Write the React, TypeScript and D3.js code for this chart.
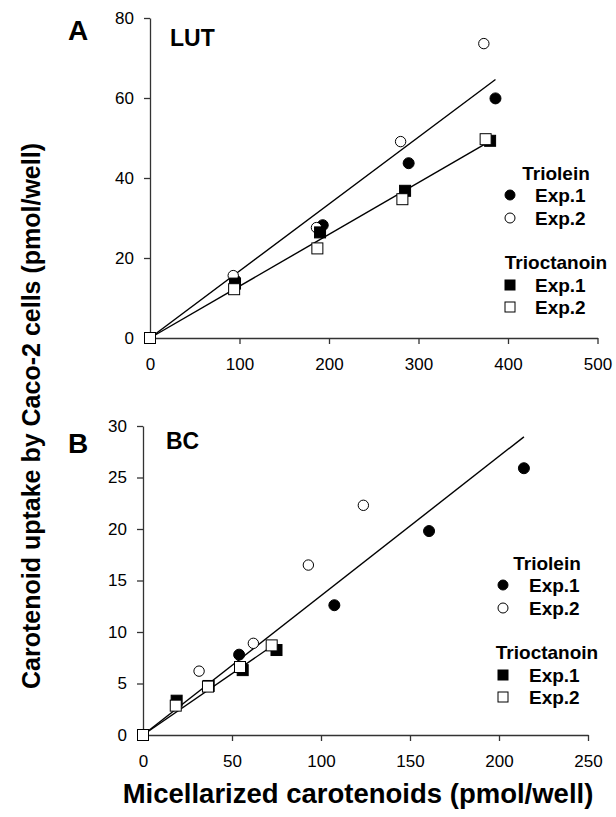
import React, { useEffect, useRef } from 'react';
import * as d3 from 'd3';

// Panel A (LUT): micellarized vs uptake, pmol/well
const lutTrioleinExp1X = [0, 95, 193, 289, 386];
const lutTrioleinExp1Y = [0, 14.5, 28.2, 43.7, 59.9];
const lutTrioleinExp2X = [0, 93, 186, 280, 373];
const lutTrioleinExp2Y = [0, 15.6, 27.6, 49.1, 73.6];
const lutTrioctExp1X = [0, 95, 190, 285, 380];
const lutTrioctExp1Y = [0, 13.6, 26.4, 36.8, 49.3];
const lutTrioctExp2X = [0, 94, 187, 282, 375];
const lutTrioctExp2Y = [0, 12.2, 22.4, 34.7, 49.7];

// Panel B (BC)
const bcTrioleinExp1X = [0, 54, 107.5, 160.7, 214];
const bcTrioleinExp1Y = [0, 7.8, 12.6, 19.8, 25.9];
const bcTrioleinExp2X = [0, 31.5, 62, 92.9, 123.8];
const bcTrioleinExp2Y = [0, 6.2, 8.9, 16.5, 22.3];
const bcTrioctExp1X = [0, 18.9, 36.9, 56, 75];
const bcTrioctExp1Y = [0, 3.33, 4.76, 6.3, 8.25];
const bcTrioctExp2X = [0, 18.4, 36.5, 54.5, 72.3];
const bcTrioctExp2Y = [0, 2.85, 4.7, 6.6, 8.7];

const lutXTicks = [0, 100, 200, 300, 400, 500];
const lutYTicks = [0, 20, 40, 60, 80];
const bcXTicks = [0, 50, 100, 150, 200, 250];
const bcYTicks = [0, 5, 10, 15, 20, 25, 30];

const FONT = '"Liberation Sans", Arial, sans-serif';

const zip = (xs, ys) => xs.map((x, i) => ({ x, y: ys[i] }));

// least squares through the origin, drawn up to the largest x
const fitLine = (pts) => {
    const sxy = d3.sum(pts, d => d.x * d.y);
    const sxx = d3.sum(pts, d => d.x * d.x);
    const slope = sxy / sxx;
    const xMax = d3.max(pts, d => d.x);
    return [{ x: 0, y: 0 }, { x: xMax, y: slope * xMax }];
};

const drawPanel = (svg, cfg) => {
    const x = d3.scaleLinear().domain(cfg.xDomain).range(cfg.xRange);
    const y = d3.scaleLinear().domain(cfg.yDomain).range(cfg.yRange);
    const g = svg.append('g');

    const xAxis = g.append('g')
        .attr('transform', `translate(0,${cfg.yRange[0]})`)
        .call(d3.axisBottom(x).tickValues(cfg.xTicks).tickSize(6).tickSizeOuter(0).tickPadding(14));
    const yAxis = g.append('g')
        .attr('transform', `translate(${cfg.xRange[0]},0)`)
        .call(d3.axisLeft(y).tickValues(cfg.yTicks).tickSize(6).tickSizeOuter(0).tickPadding(10));

    [xAxis, yAxis].forEach(ax => {
        ax.selectAll('path, line').attr('stroke', '#333').attr('stroke-width', 1.3);
        ax.selectAll('text')
            .attr('fill', '#000')
            .style('font-size', '17px')
            .style('font-family', FONT);
    });

    // fit lines
    const line = d3.line().x(d => x(d.x)).y(d => y(d.y));
    cfg.fits.forEach(pts => {
        g.append('path')
            .attr('d', line(fitLine(pts)))
            .attr('fill', 'none')
            .attr('stroke', '#000')
            .attr('stroke-width', 1.4);
    });

    // markers
    cfg.series.forEach(s => {
        const sel = g.append('g').selectAll('.m').data(s.pts).enter();
        if (s.shape === 'circle') {
            sel.append('circle')
                .attr('cx', d => x(d.x))
                .attr('cy', d => y(d.y))
                .attr('r', s.filled ? 5.5 : 5.2)
                .attr('fill', s.filled ? '#000' : '#fff')
                .attr('stroke', '#000')
                .attr('stroke-width', 1);
        } else {
            sel.append('rect')
                .attr('x', d => x(d.x) - 5.5)
                .attr('y', d => y(d.y) - 5.5)
                .attr('width', 11)
                .attr('height', 11)
                .attr('fill', s.filled ? '#000' : '#fff')
                .attr('stroke', '#000')
                .attr('stroke-width', 1);
        }
    });

    // panel letter and title
    g.append('text').attr('x', 68).attr('y', cfg.letterY).text(cfg.letter)
        .style('font-size', '28px').style('font-weight', 'bold').style('font-family', FONT);
    g.append('text').attr('x', cfg.titleX).attr('y', cfg.titleY).text(cfg.title)
        .style('font-size', '23px').style('font-weight', 'bold').style('font-family', FONT);

    // legend
    const lg = g.append('g').style('font-family', FONT).style('font-weight', 'bold').style('font-size', '19px');
    const L = cfg.legend;
    lg.append('text').attr('x', L.cx).attr('y', L.y + 7).attr('text-anchor', 'middle').text('Triolein');
    lg.append('text').attr('x', L.cx).attr('y', L.y + 96).attr('text-anchor', 'middle').text('Trioctanoin');
    const rows = [
        { dy: 22, shape: 'circle', filled: true, label: 'Exp.1' },
        { dy: 45, shape: 'circle', filled: false, label: 'Exp.2' },
        { dy: 112, shape: 'square', filled: true, label: 'Exp.1' },
        { dy: 134, shape: 'square', filled: false, label: 'Exp.2' },
    ];
    rows.forEach(r => {
        const cy = L.y + r.dy;
        if (r.shape === 'circle') {
            lg.append('circle').attr('cx', L.mx).attr('cy', cy).attr('r', 5)
                .attr('fill', r.filled ? '#000' : '#fff').attr('stroke', '#000');
        } else {
            lg.append('rect').attr('x', L.mx - 5).attr('y', cy - 5).attr('width', 10).attr('height', 10)
                .attr('fill', r.filled ? '#000' : '#fff').attr('stroke', '#000');
        }
        lg.append('text').attr('x', L.tx).attr('y', cy + 7).text(r.label);
    });
};

const App = () => {
    const svgRef = useRef(null);

    useEffect(() => {
        const svg = d3.select(svgRef.current);
        svg.selectAll('*').remove();

        const lA1 = zip(lutTrioleinExp1X, lutTrioleinExp1Y);
        const lA2 = zip(lutTrioleinExp2X, lutTrioleinExp2Y);
        const lB1 = zip(lutTrioctExp1X, lutTrioctExp1Y);
        const lB2 = zip(lutTrioctExp2X, lutTrioctExp2Y);

        drawPanel(svg, {
            xDomain: [0, 500], xRange: [150, 597.5],
            yDomain: [0, 80], yRange: [338, 18],
            xTicks: lutXTicks, yTicks: lutYTicks,
            letter: 'A', letterY: 40, title: 'LUT', titleX: 170, titleY: 46,
            fits: [lA1.concat(lA2), lB1.concat(lB2)],
            series: [
                { pts: lA1, shape: 'circle', filled: true },
                { pts: lA2, shape: 'circle', filled: false },
                { pts: lB1, shape: 'square', filled: true },
                { pts: lB2, shape: 'square', filled: false },
            ],
            legend: { y: 173, cx: 556, mx: 510, tx: 535 },
        });

        const bA1 = zip(bcTrioleinExp1X, bcTrioleinExp1Y);
        const bA2 = zip(bcTrioleinExp2X, bcTrioleinExp2Y);
        const bB1 = zip(bcTrioctExp1X, bcTrioctExp1Y);
        const bB2 = zip(bcTrioctExp2X, bcTrioctExp2Y);

        drawPanel(svg, {
            xDomain: [0, 250], xRange: [143, 588],
            yDomain: [0, 30], yRange: [735, 426],
            xTicks: bcXTicks, yTicks: bcYTicks,
            letter: 'B', letterY: 453, title: 'BC', titleX: 166, titleY: 449,
            fits: [bA1.concat(bA2), bB1.concat(bB2)],
            series: [
                { pts: bA1, shape: 'circle', filled: true },
                { pts: bA2, shape: 'circle', filled: false },
                { pts: bB1, shape: 'square', filled: true },
                { pts: bB2, shape: 'square', filled: false },
            ],
            legend: { y: 563, cx: 547, mx: 503, tx: 529 },
        });

        // shared axis titles
        svg.append('text')
            .attr('x', 358).attr('y', 803)
            .attr('text-anchor', 'middle')
            .text('Micellarized carotenoids (pmol/well)')
            .style('font-size', '27.5px').style('font-weight', 'bold').style('font-family', FONT);
        svg.append('text')
            .attr('transform', 'translate(40,416) rotate(-90)')
            .attr('text-anchor', 'middle')
            .text('Carotenoid uptake by Caco-2 cells (pmol/well)')
            .style('font-size', '25px').style('font-weight', 'bold').style('font-family', FONT);
    }, []);

    return (
        <div style={{ position: 'absolute', left: 0, top: 0, background: '#fff' }}>
            <svg ref={svgRef} width={616} height={817} style={{ display: 'block' }}></svg>
        </div>
    );
};

export default App;
